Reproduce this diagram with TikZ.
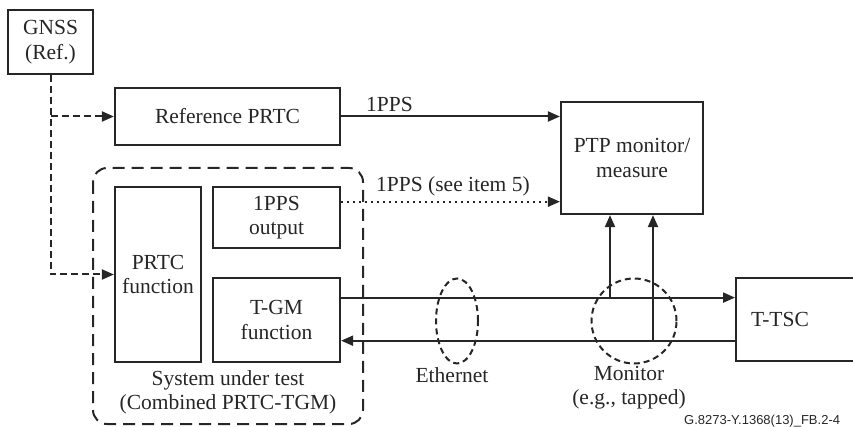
\documentclass[tikz,border=0pt]{standalone}
\usepackage{fontspec}
\setmainfont{Liberation Serif}
\newfontfamily\footfont{Liberation Sans}
\usetikzlibrary{arrows.meta,shapes.geometric,calc}
\begin{document}
\begin{tikzpicture}[x=1pt,y=-1pt,
  every node/.style={font=\fontsize{21.5}{24.5}\selectfont, inner sep=0pt, text=black!85},
  box/.style={draw=black!85, line width=2.2pt, align=center},
  tip/.style={-{Triangle[length=12pt,width=10pt]}},
  conn/.style={draw=black!85, line width=2pt, tip},
  dashconn/.style={draw=black!85, line width=2pt, dash pattern=on 7pt off 4pt, tip},
  dotconn/.style={draw=black!85, line width=2pt, dash pattern=on 2pt off 4pt, tip},
  sutbox/.style={draw=black!85, line width=2pt, dash pattern=on 12pt off 7pt, rounded corners=14pt},
  ring/.style={draw=black!85, line width=2pt, dash pattern=on 6pt off 4pt, ellipse},
  lbl/.style={align=center}
]
\useasboundingbox (0,0) rectangle (853,427);
\clip (0,0) rectangle (853,427);

% boxes
\node[box, minimum width=85pt, minimum height=64pt] (gnss) at (50.5,42) {GNSS\\(Ref.)};
\node[box, minimum width=225pt, minimum height=57pt] (refprtc) at (227.5,116.5) {Reference PRTC};
\node[box, minimum width=142pt, minimum height=112pt] (ptp) at (632,158) {PTP monitor/\\measure};
\node[box, minimum width=86pt, minimum height=175pt] (prtcf) at (158,274.5) {PRTC\\function};
\node[box, minimum width=127pt, minimum height=61pt] (ppsout) at (276.5,217.5) {1PPS\\output};
\node[box, minimum width=127pt, minimum height=84pt] (tgm) at (276.5,320) {T-GM\\function};
\node[box, minimum width=150pt, minimum height=83pt, anchor=west] (ttsc) at (735,319.5) {};
\node[lbl] (ttsclbl) at (780,319.5) {T-TSC};

% system under test
\draw[sutbox] (93,168) rectangle (363,424);
\node[lbl] (sut) at (228,392.5) {System under test\\(Combined PRTC-TGM)};

% GNSS distribution
\draw[dashconn] (gnss.south) -- (gnss.south |- prtcf.west) -- (prtcf.west);
\draw[dashconn] (gnss.south |- refprtc.west) -- (refprtc.west);

% 1PPS links
\draw[conn] (refprtc.east) -- (ptp.west |- refprtc.east);
\node[anchor=base west] (l1pps) at (366,112) {1PPS};
\coordinate (ppsstart) at ($(ppsout.north east)!0.25!(ppsout.south east)$);
\draw[dotconn] (ppsstart) -- (ptp.west |- ppsstart);
\node[anchor=base west] (l1pps5) at (376,192) {1PPS (see item 5)};

% Ethernet links
\coordinate (tx) at ($(tgm.north east)!0.24!(tgm.south east)$);
\coordinate (rx) at ($(tgm.north east)!0.74!(tgm.south east)$);
\draw[conn] (tx) -- (ttsc.west |- tx);
\draw[conn] (ttsc.west |- rx) -- (rx);

% taps
\coordinate (tap1) at (610,0 |- tx);
\coordinate (tap2) at (653,0 |- rx);
\draw[conn] (tx -| tap1) -- (tap1 |- ptp.south);
\draw[conn] (rx -| tap2) -- (tap2 |- ptp.south);

% rings
\node[ring, minimum width=42pt, minimum height=85pt] (eth) at (457,321) {};
\node[ring, minimum width=85pt, minimum height=85pt] (mon) at (634,321) {};
\node[lbl] (ethl) at (452,375) {Ethernet};
\node[lbl] (monl) at (629,387.5) {Monitor\\(e.g., tapped)};

% footer
\node[anchor=base west, font=\footfont\fontsize{13}{15}\selectfont] (foot) at (684,424) {G.8273-Y.1368(13)\_FB.2-4};
\end{tikzpicture}
\end{document}
